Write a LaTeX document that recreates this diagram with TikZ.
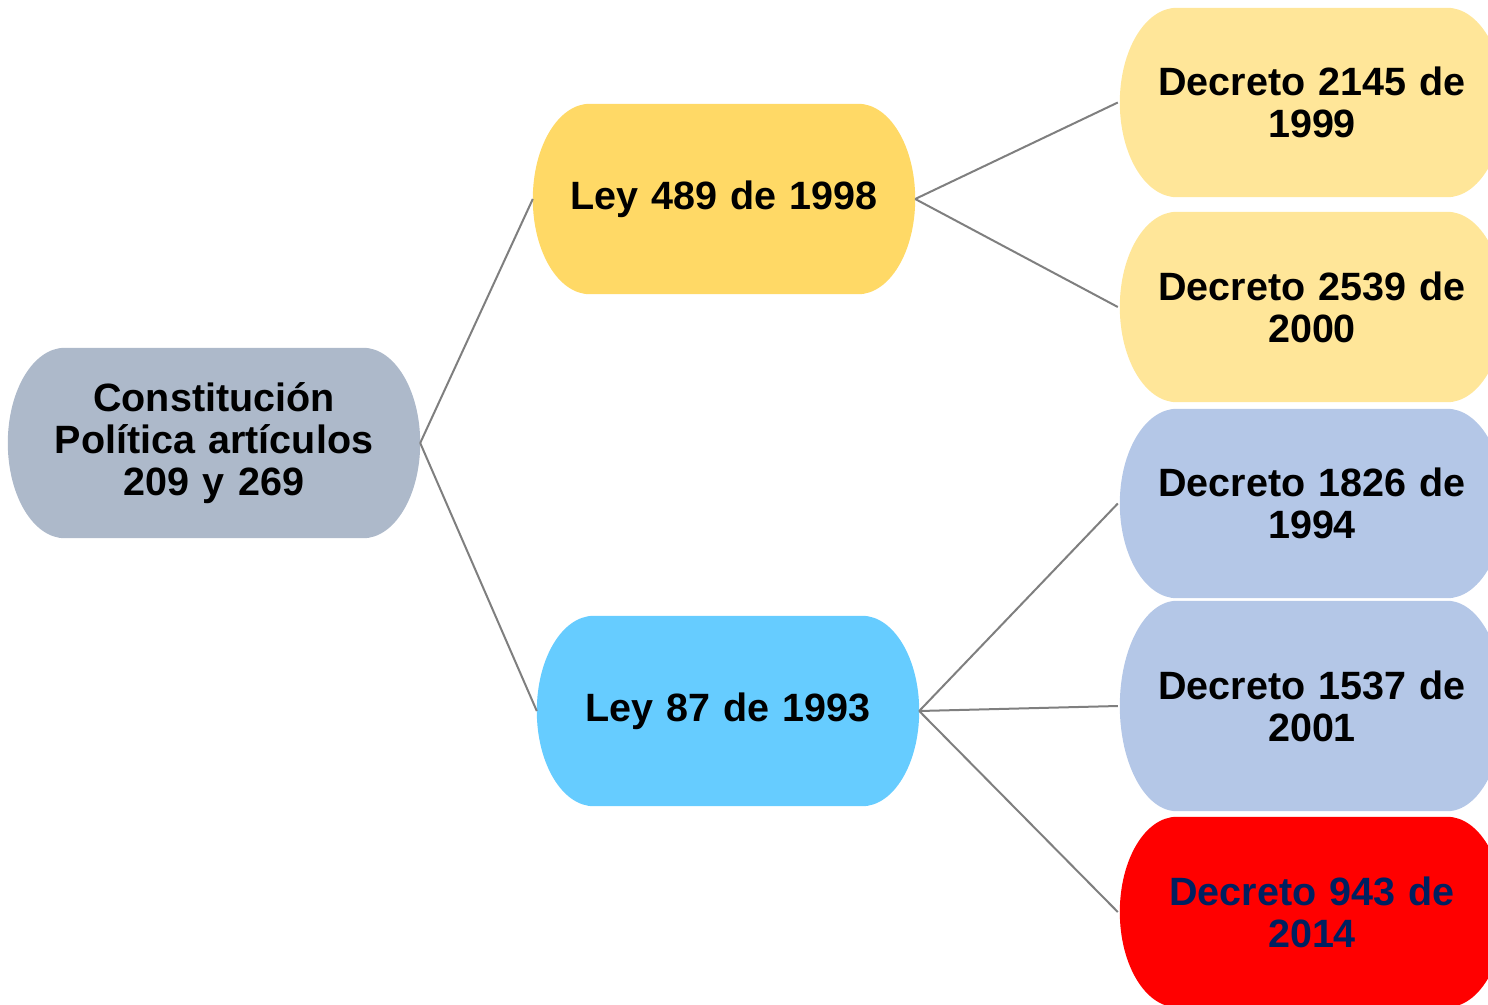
\documentclass[tikz,border=0pt]{standalone}
\usepackage{fontspec}
\setmainfont{Liberation Sans}
\usetikzlibrary{calc,backgrounds}

\definecolor{cpolfill}{HTML}{ADB9CA}
\definecolor{leyyellow}{HTML}{FFD966}
\definecolor{leyblue}{HTML}{66CCFF}
\definecolor{decyellow}{HTML}{FFE699}
\definecolor{decblue}{HTML}{B4C7E7}
\definecolor{decred}{HTML}{FF0000}
\definecolor{navytext}{HTML}{002060}
\definecolor{linkgray}{HTML}{7F7F7F}

\begin{document}
\begin{tikzpicture}[x=1pt,y=1pt,
    pill/.style={inner sep=0pt, text width=380pt, align=center,
      font=\bfseries\fontsize{39.5}{42}\selectfont},
    link/.style={draw=linkgray, line width=2pt}]
    \useasboundingbox (0,0) rectangle (1488,-1004);
    \clip (0,0) rectangle (1488,-1004);

    % Define pill end radius and decree column
    \def\pillrx{57pt}
    \def\decx{1312}
    \def\decwidth{384pt}

    % Root and laws
    \node[pill, minimum width=412pt, minimum height=190pt] (cpol) at (214,-443)
      {Constitución\\Política artículos\\209 y 269};
    \node[pill, minimum width=382pt, minimum height=190pt] (ley489) at (724,-199)
      {Ley 489 de 1998};
    \node[pill, minimum width=382pt, minimum height=190pt] (ley87) at (728,-711)
      {Ley 87 de 1993};

    % Define decrees: name/text/y-position/height/text colour
    \def\decrees{%
      d2145/Decreto 2145 de\\1999/102.5/189/black,%
      d2539/Decreto 2539 de\\2000/307/190/black,%
      d1826/Decreto 1826 de\\1994/503.5/189/black,%
      d1537/Decreto 1537 de\\2001/706/210/black,%
      d943/Decreto 943 de\\2014/912/190/navytext%
    }

    % Draw decree nodes
    \foreach \nd/\txt/\ypos/\hgt/\txtc in \decrees {
        \node[pill, minimum width=\decwidth, minimum height=\hgt pt, text=\txtc]
          (\nd) at (\decx,-\ypos) {\txt};
    }

    % Fill pill shapes behind the texts
    \begin{scope}[on background layer]
    \foreach \nd/\col in {cpol/cpolfill, ley489/leyyellow, ley87/leyblue,
        d2145/decyellow, d2539/decyellow, d1826/decblue, d1537/decblue, d943/decred} {
        \path let \p1=(\nd.north west), \p2=(\nd.south east) in
          [fill=\col] (\x1+\pillrx,\y1) -- (\x2-\pillrx,\y1)
          arc[start angle=90, end angle=-90, x radius=\pillrx, y radius={(\y1-\y2)/2}]
          -- (\x1+\pillrx,\y2)
          arc[start angle=270, end angle=90, x radius=\pillrx, y radius={(\y1-\y2)/2}]
          -- cycle;
    }
    \end{scope}

    % Connectors
    \draw[link] (cpol.east) -- (ley489.west);
    \draw[link] (cpol.east) -- (ley87.west);
    \foreach \d in {d2145, d2539} {
        \draw[link] (ley489.east) -- ([xshift=-2pt]\d.west);
    }
    \foreach \d in {d1826, d1537, d943} {
        \draw[link] (ley87.east) -- ([xshift=-2pt]\d.west);
    }

\end{tikzpicture}
\end{document}
